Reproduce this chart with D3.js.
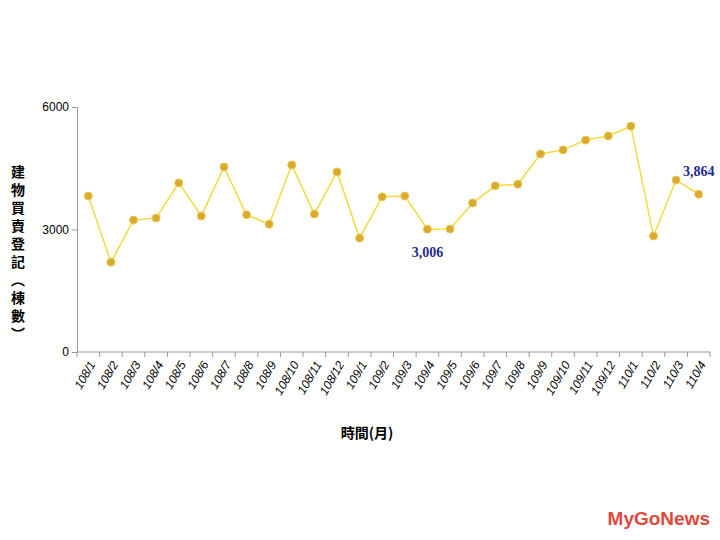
<!DOCTYPE html>
<html><head><meta charset="utf-8">
<script src="https://cdn.jsdelivr.net/npm/d3@7"></script>
<style>body{margin:0;background:#fff}</style>
</head><body><div id="chart"></div>
<script>
// months and registrations (buildings)
const months = ["108/1","108/2","108/3","108/4","108/5","108/6","108/7","108/8","108/9","108/10","108/11","108/12",
  "109/1","109/2","109/3","109/4","109/5","109/6","109/7","109/8","109/9","109/10","109/11","109/12",
  "110/1","110/2","110/3","110/4"];
const counts = [3820,2200,3230,3280,4140,3330,4530,3360,3130,4580,3380,4410,
  2790,3800,3820,3006,3010,3650,4070,4110,4850,4950,5190,5290,5530,2840,4210,3864];
const yTicks = [0,3000,6000];
const labelled = {"109/4":"3,006","110/4":"3,864"};

const width = 720, height = 540;
const mLeft = 77, mRight = 710, mTop = 107, mBottom = 352;

const svg = d3.select("#chart").append("svg").attr("width", width).attr("height", height);

const x = d3.scaleBand().domain(months).range([mLeft, mRight]);
const y = d3.scaleLinear().domain([0, 6000]).range([mBottom, mTop]);

// y axis
const yAxis = svg.append("g").attr("transform", `translate(${mLeft},0)`)
  .call(d3.axisLeft(y).tickValues(yTicks).tickSize(5).tickFormat(d3.format("d")));
yAxis.selectAll("text").style("font", "12px 'Liberation Sans', Arial, sans-serif").attr("fill", "#000");
yAxis.selectAll("path,line").attr("stroke", "#999");

// x axis with ticks between categories
svg.append("line").attr("x1", mLeft).attr("x2", mRight).attr("y1", mBottom).attr("y2", mBottom).attr("stroke", "#999");
svg.append("g").selectAll("line").data(months.concat([null])).join("line")
  .attr("x1", (d, i) => mLeft + i * x.bandwidth()).attr("x2", (d, i) => mLeft + i * x.bandwidth())
  .attr("y1", mBottom).attr("y2", mBottom + 5).attr("stroke", "#999");
svg.append("g").selectAll("text").data(months).join("text")
  .attr("transform", d => `translate(${x(d) + x.bandwidth() / 2 + 4},${mBottom + 10}) rotate(-60)`)
  .attr("text-anchor", "end").attr("dy", "0.35em")
  .style("font", "italic 12px 'Liberation Sans', Arial, sans-serif")
  .text(d => d);

// line
const cx = d => x(d) + x.bandwidth() / 2;
svg.append("path").datum(months)
  .attr("fill", "none").attr("stroke", "#f2dc3c").attr("stroke-width", 1.5)
  .attr("d", d3.line().x(d => cx(d)).y((d, i) => y(counts[i])));
svg.append("g").selectAll("circle").data(months).join("circle")
  .attr("cx", cx).attr("cy", (d, i) => y(counts[i])).attr("r", 4)
  .attr("fill", "#d9aa2c").attr("stroke", "#e9c85a").attr("stroke-width", 1);

// data labels
months.forEach((m, i) => {
  if (!labelled[m]) return;
  const below = m === "109/4";
  svg.append("text").attr("x", cx(m)).attr("y", y(counts[i]) + (below ? 28 : -18))
    .attr("text-anchor", "middle").attr("fill", "#1f2a8a")
    .style("font", "bold 14px 'Liberation Serif', 'Times New Roman', serif")
    .text(labelled[m]);
});

// titles
svg.append("text").attr("x", 367).attr("y", 438).attr("text-anchor", "middle")
  .style("font", "bold 14px 'Noto Sans CJK TC', sans-serif").text("時間(月)");
svg.append("text").attr("x", 18).attr("y", 165)
  .style("writing-mode", "vertical-rl").style("letter-spacing", "4px")
  .style("font", "bold 14px 'Noto Sans CJK TC', sans-serif").text("建物買賣登記（棟數）");

// logo
svg.append("text").attr("x", 710).attr("y", 525).attr("text-anchor", "end").attr("fill", "#e0483c")
  .style("font", "bold 19px 'Liberation Sans', Arial, sans-serif").text("MyGoNews");
</script></body></html>
